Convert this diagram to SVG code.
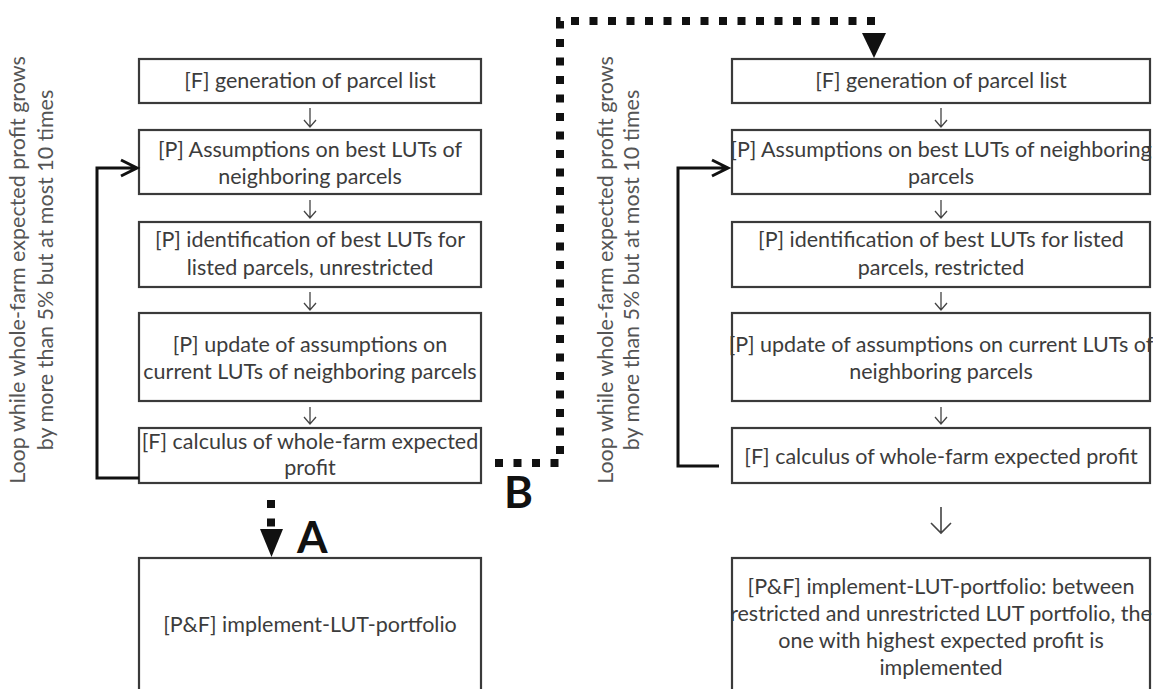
<svg xmlns="http://www.w3.org/2000/svg" width="1153" height="689" viewBox="0 0 1153 689">
<style>
.box{fill:#fff;stroke:#3a3a3a;stroke-width:2.2}
.t{font-family:Lato,"Liberation Sans",sans-serif;font-size:21.5px;fill:#3c3c3c;text-anchor:middle}
.rot{font-family:Lato,"Liberation Sans",sans-serif;font-size:21.5px;fill:#555;text-anchor:middle}
.big{font-family:Lato,"Liberation Sans",sans-serif;font-size:44px;font-weight:bold;fill:#111}
.sm{fill:none;stroke:#444;stroke-width:1.3}
.loop{fill:none;stroke:#111;stroke-width:3}
.dot{fill:none;stroke:#111;stroke-width:8;stroke-dasharray:8 10.5}
</style>
<rect width="1153" height="689" fill="#fff"/>
<g id="loop-label-left"><text class="rot" transform="translate(25,270) rotate(-90)">Loop while whole-farm expected profit grows</text><text class="rot" transform="translate(53,270) rotate(-90)">by more than 5% but at most 10 times</text></g>
<g id="loop-label-right"><text class="rot" transform="translate(613,270) rotate(-90)">Loop while whole-farm expected profit grows</text><text class="rot" transform="translate(639,270) rotate(-90)">by more than 5% but at most 10 times</text></g>
<g id="L1"><rect class="box" x="139" y="59" width="342" height="44"/><text class="t" x="310" y="88">[F] generation of parcel list</text></g>
<g id="L2"><rect class="box" x="139" y="130" width="342" height="64"/><text class="t" x="310" y="157">[P] Assumptions on best LUTs of</text><text class="t" x="310" y="184">neighboring parcels</text></g>
<g id="L3"><rect class="box" x="139" y="222" width="342" height="65"/><text class="t" x="310" y="247">[P] identification of best LUTs for</text><text class="t" x="310" y="275">listed parcels, unrestricted</text></g>
<g id="L4"><rect class="box" x="139" y="313" width="342" height="88"/><text class="t" x="310" y="352">[P] update of assumptions on</text><text class="t" x="310" y="379">current LUTs of neighboring parcels</text></g>
<g id="L5"><rect class="box" x="139" y="428" width="342" height="55"/><text class="t" x="310" y="449">[F] calculus of whole-farm expected</text><text class="t" x="310" y="475">profit</text></g>
<g id="L6"><rect class="box" x="139" y="558" width="342" height="140"/><text class="t" x="310" y="632">[P&amp;F] implement-LUT-portfolio</text></g>
<g id="R1"><rect class="box" x="732" y="59" width="418" height="44"/><text class="t" x="941" y="88">[F] generation of parcel list</text></g>
<g id="R2"><rect class="box" x="732" y="130" width="418" height="64"/><text class="t" x="941" y="157">[P] Assumptions on best LUTs of neighboring</text><text class="t" x="941" y="184">parcels</text></g>
<g id="R3"><rect class="box" x="732" y="222" width="418" height="65"/><text class="t" x="941" y="247">[P] identification of best LUTs for listed</text><text class="t" x="941" y="275">parcels, restricted</text></g>
<g id="R4"><rect class="box" x="732" y="313" width="418" height="88"/><text class="t" x="941" y="352">[P] update of assumptions on current LUTs of</text><text class="t" x="941" y="379">neighboring parcels</text></g>
<g id="R5"><rect class="box" x="732" y="428" width="418" height="55"/><text class="t" x="941" y="464">[F] calculus of whole-farm expected profit</text></g>
<g id="R6"><rect class="box" x="732" y="558" width="418" height="140"/><text class="t" x="941" y="594">[P&amp;F] implement-LUT-portfolio: between</text><text class="t" x="941" y="621">restricted and unrestricted LUT portfolio, the</text><text class="t" x="941" y="648">one with highest expected profit is</text><text class="t" x="941" y="675">implemented</text></g>
<g id="connectors">
<path class="sm" d="M310 108V127M304 120L310 127L316 120"/>
<path class="sm" d="M310 200V218M304 211L310 218L316 211"/>
<path class="sm" d="M310 292V310M304 303L310 310L316 303"/>
<path class="sm" d="M310 407V424M304 417L310 424L316 417"/>
<path class="sm" d="M941 108V127M935 120L941 127L947 120"/>
<path class="sm" d="M941 200V218M935 211L941 218L947 211"/>
<path class="sm" d="M941 292V310M935 303L941 310L947 303"/>
<path class="sm" d="M941 407V424M935 417L941 424L947 417"/>
<path class="sm" style="stroke-width:1.6" d="M941 507V533M931 523L941 533L951 523"/>
<path class="loop" d="M139 478H97V168H136M121 160L137 168L121 176"/>
<path class="loop" d="M719 466H678V168H727M712 160L728 168L712 176"/>
<path class="dot" d="M495 463H560V21H880"/>
<polygon points="862,33 886,33 874,58" fill="#111"/>
<path class="dot" d="M271 500V529"/>
<polygon points="260,529 283,529 271.5,557" fill="#111"/>
</g>
<text class="big" x="297" y="553">A</text>
<text class="big" x="504" y="508">B</text>
</svg>
